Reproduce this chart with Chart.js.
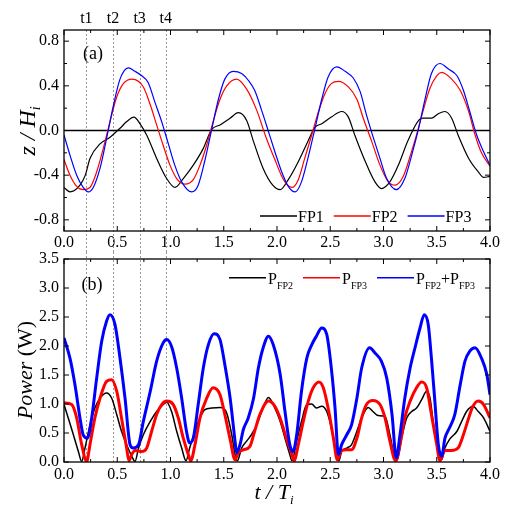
<!DOCTYPE html>
<html>
<head>
<meta charset="utf-8">
<script src="https://cdn.jsdelivr.net/npm/chart.js@4.4.1/dist/chart.umd.min.js"></script>
<style>
  html, body { margin: 0; padding: 0; background: #fff; }
  #wrap { position: relative; width: 516px; height: 518px; }
  #wrap canvas { position: absolute; left: 0; }
</style>
</head>
<body>
<div id="wrap">
  <canvas id="chartA" width="516" height="252" style="top:0px"></canvas>
  <canvas id="chartB" width="516" height="274" style="top:244px"></canvas>
</div>
<script>
// ---- panel (a): z / Hi at the three floaters ----
const fp1T = [0, 0.056, 0.15, 0.2, 0.244, 0.338, 0.432, 0.526, 0.589, 0.657, 0.714, 0.776, 0.87, 0.964,
  1.042, 1.12, 1.214, 1.308, 1.387, 1.465, 1.559, 1.637, 1.715, 1.78, 1.87, 1.96, 2.03, 2.106, 2.2,
  2.294, 2.357, 2.42, 2.51, 2.607, 2.67, 2.73, 2.83, 2.92, 2.98, 3.06, 3.14, 3.23, 3.33, 3.37, 3.45,
  3.515, 3.577, 3.64, 3.7, 3.8, 3.89, 3.94, 4.0];
const fp1Z = [-0.51, -0.55, -0.49, -0.40, -0.25, -0.12, -0.06, 0.02, 0.08, 0.12, 0.06, -0.04, -0.25, -0.43,
  -0.51, -0.43, -0.31, -0.16, 0.01, 0.05, 0.11, 0.16, 0.09, -0.10, -0.34, -0.49, -0.53, -0.44, -0.28,
  -0.09, 0.03, 0.06, 0.12, 0.17, 0.12, -0.04, -0.28, -0.46, -0.52, -0.46, -0.31, -0.09, 0.09, 0.11, 0.11,
  0.15, 0.17, 0.11, -0.04, -0.25, -0.37, -0.42, -0.41];

const fp2T = [0, 0.056, 0.119, 0.18, 0.244, 0.307, 0.369, 0.432, 0.495, 0.557, 0.64, 0.745, 0.81, 0.87,
  0.93, 0.995, 1.058, 1.136, 1.214, 1.277, 1.34, 1.4, 1.465, 1.528, 1.62, 1.715, 1.81, 1.9, 1.98, 2.04,
  2.09, 2.14, 2.2, 2.26, 2.326, 2.39, 2.45, 2.51, 2.576, 2.67, 2.75, 2.81, 2.89, 2.967, 3.045, 3.108,
  3.186, 3.25, 3.31, 3.37, 3.437, 3.5, 3.546, 3.64, 3.72, 3.8, 3.86, 3.92, 4.0];
const fp2Z = [-0.26, -0.40, -0.50, -0.53, -0.51, -0.37, -0.16, 0.08, 0.30, 0.42, 0.46, 0.39, 0.23, 0.05,
  -0.13, -0.31, -0.43, -0.48, -0.44, -0.31, -0.13, 0.08, 0.28, 0.40, 0.46, 0.37, 0.18, -0.07, -0.26, -0.40,
  -0.48, -0.51, -0.44, -0.25, -0.04, 0.17, 0.33, 0.42, 0.44, 0.39, 0.28, 0.11, -0.10, -0.31, -0.46, -0.49,
  -0.41, -0.23, -0.04, 0.17, 0.38, 0.49, 0.52, 0.46, 0.36, 0.17, -0.04, -0.20, -0.32];

const fp3T = [0, 0.056, 0.119, 0.18, 0.228, 0.275, 0.338, 0.4, 0.463, 0.526, 0.604, 0.667, 0.73, 0.79,
  0.855, 0.917, 0.98, 1.04, 1.105, 1.2, 1.26, 1.32, 1.387, 1.45, 1.51, 1.59, 1.668, 1.73, 1.79, 1.856,
  1.92, 1.98, 2.04, 2.106, 2.17, 2.23, 2.29, 2.357, 2.42, 2.48, 2.56, 2.64, 2.716, 2.78, 2.84, 2.9,
  2.967, 3.03, 3.12, 3.2, 3.265, 3.33, 3.39, 3.45, 3.53, 3.61, 3.69, 3.75, 3.81, 3.875, 3.94, 4.0];
const fp3Z = [-0.04, -0.22, -0.40, -0.51, -0.55, -0.51, -0.34, -0.07, 0.22, 0.46, 0.56, 0.53, 0.49, 0.43,
  0.25, 0.08, -0.12, -0.31, -0.46, -0.55, -0.49, -0.28, 0.01, 0.28, 0.46, 0.53, 0.51, 0.45, 0.36, 0.18,
  -0.01, -0.19, -0.36, -0.50, -0.55, -0.46, -0.25, 0.02, 0.28, 0.48, 0.57, 0.53, 0.47, 0.35, 0.14, -0.05,
  -0.25, -0.43, -0.53, -0.43, -0.22, 0.02, 0.28, 0.51, 0.60, 0.55, 0.49, 0.36, 0.17, -0.04, -0.19, -0.31];

// ---- panel (b): power (W) ----
const pFp2T = [0, 0.04, 0.088, 0.135, 0.166, 0.197, 0.244, 0.29, 0.338, 0.4, 0.448, 0.495, 0.54, 0.588,
  0.636, 0.667, 0.7, 0.745, 0.81, 0.87, 0.93, 0.964, 1.01, 1.058, 1.105, 1.146, 1.18, 1.23, 1.277, 1.32,
  1.387, 1.465, 1.528, 1.575, 1.606, 1.627, 1.668, 1.715, 1.76, 1.81, 1.856, 1.92, 1.98, 2.03, 2.075,
  2.12, 2.14, 2.185, 2.23, 2.28, 2.326, 2.37, 2.42, 2.467, 2.51, 2.545, 2.58, 2.607, 2.655, 2.7, 2.75,
  2.795, 2.857, 2.9, 2.95, 3.014, 3.06, 3.108, 3.13, 3.17, 3.218, 3.265, 3.31, 3.357, 3.405, 3.437, 3.47,
  3.515, 3.546, 3.577, 3.62, 3.69, 3.734, 3.78, 3.84, 3.89, 3.94, 4.0];
const pFp2W = [0.99, 0.76, 0.47, 0.18, 0.01, 0.24, 0.64, 0.93, 1.10, 1.19, 1.10, 0.82, 0.53, 0.30,
  0.10, 0.01, 0.24, 0.47, 0.70, 0.87, 0.99, 1.03, 0.87, 0.53, 0.24, 0.02, 0.24, 0.53, 0.76, 0.90,
  0.93, 0.94, 0.84, 0.47, 0.13, 0.02, 0.24, 0.36, 0.47, 0.64, 0.87, 1.11, 0.93, 0.70, 0.41,
  0.13, 0.02, 0.36, 0.70, 0.99, 1.00, 0.93, 0.96, 0.87, 0.59, 0.24, 0.02, 0.18, 0.24, 0.30, 0.53,
  0.76, 0.94, 0.87, 0.80, 0.79, 0.47, 0.07, 0.04, 0.41, 0.76, 0.87, 0.93, 1.07, 1.22, 1.10, 0.64,
  0.18, 0.04, 0.24, 0.39, 0.53, 0.70, 0.87, 0.96, 0.87, 0.76, 0.53];

const pFp3T = [0, 0.072, 0.119, 0.166, 0.213, 0.244, 0.29, 0.338, 0.4, 0.448, 0.495, 0.54, 0.588, 0.61,
  0.636, 0.667, 0.73, 0.776, 0.823, 0.87, 0.917, 0.964, 1.026, 1.073, 1.12, 1.167, 1.19, 1.23, 1.277,
  1.34, 1.4, 1.465, 1.51, 1.56, 1.606, 1.637, 1.684, 1.746, 1.79, 1.84, 1.92, 1.98, 2.04, 2.09, 2.14,
  2.16, 2.2, 2.247, 2.294, 2.34, 2.394, 2.435, 2.48, 2.53, 2.566, 2.607, 2.655, 2.7, 2.75, 2.795, 2.84,
  2.9, 2.967, 3.014, 3.06, 3.114, 3.155, 3.2, 3.25, 3.31, 3.357, 3.405, 3.45, 3.5, 3.53, 3.577, 3.64,
  3.7, 3.75, 3.8, 3.84, 3.89, 3.94, 4.0];
const pFp3W = [1.02, 0.99, 0.76, 0.30, 0.01, 0.30, 0.76, 1.10, 1.39, 1.42, 1.22, 0.76, 0.24, 0.02,
  0.13, 0.20, 0.18, 0.24, 0.53, 0.82, 0.99, 1.05, 0.99, 0.76, 0.41, 0.13, 0.02, 0.30, 0.76,
  1.10, 1.28, 1.16, 0.82, 0.39, 0.04, 0.16, 0.21, 0.27, 0.53, 0.82, 1.05, 0.96, 0.70, 0.39, 0.13,
  0.02, 0.30, 0.70, 1.05, 1.28, 1.38, 1.28, 0.93, 0.41, 0.04, 0.20, 0.21, 0.21, 0.41, 0.76, 0.99,
  1.06, 0.99, 0.76, 0.36, 0.02, 0.30, 0.76, 1.05, 1.28, 1.38, 1.28, 0.82, 0.30, 0.02, 0.20, 0.20,
  0.24, 0.47, 0.76, 0.96, 1.05, 0.99, 0.76];

const pSumT = [0, 0.056, 0.103, 0.15, 0.18, 0.22, 0.26, 0.307, 0.354, 0.4, 0.432, 0.479, 0.526, 0.573,
  0.62, 0.65, 0.7, 0.745, 0.81, 0.87, 0.93, 0.964, 1.01, 1.058, 1.105, 1.15, 1.18, 1.214, 1.26, 1.308,
  1.355, 1.41, 1.465, 1.51, 1.56, 1.606, 1.62, 1.653, 1.684, 1.73, 1.78, 1.825, 1.87, 1.92, 1.965, 2.03,
  2.075, 2.12, 2.15, 2.185, 2.23, 2.28, 2.326, 2.37, 2.42, 2.467, 2.51, 2.545, 2.576, 2.607, 2.655, 2.7,
  2.75, 2.795, 2.87, 2.92, 2.98, 3.03, 3.08, 3.12, 3.155, 3.2, 3.25, 3.296, 3.343, 3.383, 3.42, 3.45,
  3.48, 3.515, 3.546, 3.577, 3.62, 3.67, 3.72, 3.765, 3.81, 3.86, 3.92, 3.97, 4.0];
const pSumW = [2.14, 1.79, 1.33, 0.76, 0.47, 0.41, 0.76, 1.45, 2.08, 2.43, 2.54, 2.37, 1.79, 1.10,
  0.30, 0.24, 0.30, 0.70, 1.22, 1.74, 2.05, 2.11, 1.99, 1.62, 1.10, 0.53, 0.33, 0.41, 0.99, 1.62,
  2.02, 2.21, 2.11, 1.68, 1.10, 0.36, 0.16, 0.30, 0.56, 0.76, 1.10, 1.62, 1.97, 2.17, 2.02, 1.51,
  0.87, 0.30, 0.18, 0.47, 1.22, 1.79, 2.02, 2.17, 2.31, 2.20, 1.62, 0.93, 0.13, 0.30, 0.47, 0.64,
  1.10, 1.62, 1.97, 1.88, 1.74, 1.45, 0.82, 0.07, 0.47, 1.10, 1.62, 1.97, 2.31, 2.54, 2.37, 1.79,
  1.10, 0.30, 0.10, 0.41, 0.59, 0.82, 1.33, 1.74, 1.91, 1.97, 1.79, 1.51, 1.16];

// ---- axes ----
const xTicks = [0, 0.5, 1.0, 1.5, 2.0, 2.5, 3.0, 3.5, 4.0];
const zTicks = [-0.8, -0.4, 0, 0.4, 0.8];
const powerTicks = [0, 0.5, 1.0, 1.5, 2.0, 2.5, 3.0, 3.5];
const markT = [0.21, 0.46, 0.71, 0.955];
const markLabels = ['t1', 't2', 't3', 't4'];

const SERIF = '"Liberation Serif", "Times New Roman", serif';
const font = (size, italic) => (italic ? 'italic ' : '') + size + 'px ' + SERIF;
const toPoints = (xs, ys) => xs.map((x, i) => ({ x: x, y: ys[i] }));

// draw a run of text pieces [text, size, italic, dy]
function drawParts(ctx, parts, x, y, align) {
  let total = 0;
  parts.forEach(p => { ctx.font = font(p[1], p[2]); total += ctx.measureText(p[0]).width; });
  let cx = align === 'center' ? x - total / 2 : x;
  ctx.textAlign = 'left';
  ctx.textBaseline = 'alphabetic';
  parts.forEach(p => {
    ctx.font = font(p[1], p[2]);
    ctx.fillText(p[0], cx, y + (p[3] || 0));
    cx += ctx.measureText(p[0]).width;
  });
  return cx;
}

function withMinor(major, minor) {
  const out = major.map(v => [v, true]);
  if (minor) {
    for (let i = 0; i < major.length - 1; i++) out.push([(major[i] + major[i + 1]) / 2, false]);
  }
  return out;
}

function drawFrame(chart, xMajor, yMajor, yMinor) {
  const { ctx, chartArea: a, scales: { x, y } } = chart;
  ctx.save();
  ctx.strokeStyle = '#000';
  ctx.lineWidth = 1;
  ctx.beginPath();
  withMinor(xMajor, true).forEach(([v, major]) => {
    const px = x.getPixelForValue(v), len = major ? 5 : 3;
    ctx.moveTo(px, a.bottom); ctx.lineTo(px, a.bottom - len);
    ctx.moveTo(px, a.top); ctx.lineTo(px, a.top + len);
  });
  withMinor(yMajor, yMinor).forEach(([v, major]) => {
    const py = y.getPixelForValue(v), len = major ? 5 : 3;
    ctx.moveTo(a.left, py); ctx.lineTo(a.left + len, py);
    ctx.moveTo(a.right, py); ctx.lineTo(a.right - len, py);
  });
  ctx.stroke();
  ctx.lineWidth = 1.3;
  ctx.strokeRect(a.left, a.top, a.right - a.left, a.bottom - a.top);
  ctx.restore();
}

function markers(chart, y0, y1) {
  const { ctx, scales: { x } } = chart;
  ctx.save();
  ctx.strokeStyle = '#999';
  ctx.lineWidth = 1;
  ctx.setLineDash([2, 2]);
  markT.forEach(t => {
    const px = Math.round(x.getPixelForValue(t)) + 0.5;
    ctx.beginPath(); ctx.moveTo(px, y0); ctx.lineTo(px, y1); ctx.stroke();
  });
  ctx.restore();
}

function scaleOpts(min, max, ticks, pad, fit) {
  return {
    type: 'linear', min: min, max: max,
    afterBuildTicks: s => { s.ticks = ticks.map(v => ({ value: v })); },
    ticks: { callback: v => v.toFixed(1), font: { family: SERIF, size: 16 }, color: '#000',
             padding: pad, maxRotation: 0, autoSkip: false },
    grid: { display: false, drawTicks: false },
    border: { display: false },
    afterFit: fit
  };
}

const common = {
  responsive: false, animation: false, events: [],
  plugins: { legend: { display: false }, tooltip: { enabled: false } },
  elements: { point: { radius: 0 }, line: { cubicInterpolationMode: 'monotone', borderJoinStyle: 'round' } }
};

// ---- chart (a) ----
const panelA = {
  id: 'panelA',
  beforeDatasetsDraw(chart) {
    const { ctx, chartArea: a, scales: { y } } = chart;
    markers(chart, a.top, chart.height);
    const py = y.getPixelForValue(0);
    ctx.save();
    ctx.strokeStyle = '#000'; ctx.lineWidth = 1.3;
    ctx.beginPath(); ctx.moveTo(a.left, py); ctx.lineTo(a.right, py); ctx.stroke();
    ctx.restore();
  },
  afterDraw(chart) {
    const { ctx, scales: { x } } = chart;
    drawFrame(chart, xTicks, zTicks, true);
    ctx.save();
    ctx.fillStyle = '#000';
    markT.forEach((t, i) => drawParts(ctx, [[markLabels[i], 16, false]], x.getPixelForValue(t), 23, 'center'));
    drawParts(ctx, [['(a)', 18, false]], 93, 59, 'center');
    // y title z / Hi
    ctx.translate(35, 131);
    ctx.rotate(-Math.PI / 2);
    drawParts(ctx, [['z / H', 24, true], ['i', 14, true, 5]], 0, 0, 'center');
    ctx.restore();
    // legend
    ctx.save();
    let lx = 260;
    [['FP1', '#000'], ['FP2', '#ff0000'], ['FP3', '#0000ff']].forEach(([name, col]) => {
      ctx.strokeStyle = col; ctx.lineWidth = 1.3;
      ctx.beginPath(); ctx.moveTo(lx, 216); ctx.lineTo(lx + 37, 216); ctx.stroke();
      ctx.fillStyle = '#000';
      lx = drawParts(ctx, [[name, 16, false]], lx + 38, 221.5, 'left') + 10;
    });
    ctx.restore();
  }
};

new Chart(document.getElementById('chartA'), {
  type: 'line',
  data: {
    datasets: [
      { label: 'FP1', data: toPoints(fp1T, fp1Z), borderColor: '#000', borderWidth: 1.2, order: 2 },
      { label: 'FP2', data: toPoints(fp2T, fp2Z), borderColor: '#ff0000', borderWidth: 1.2, order: 1 },
      { label: 'FP3', data: toPoints(fp3T, fp3Z), borderColor: '#0000ff', borderWidth: 1.2, order: 0 }
    ]
  },
  options: Object.assign({}, common, {
    layout: { padding: { left: 0, right: 26, top: 30, bottom: 0 } },
    scales: {
      x: scaleOpts(0, 4, xTicks, 2, s => { s.height = 21; }),
      y: scaleOpts(-0.9, 0.9, zTicks, 5, s => { s.width = 64; })
    }
  }),
  plugins: [panelA]
});

// ---- chart (b) ----
const TOP_B = 244;
const panelB = {
  id: 'panelB',
  beforeDatasetsDraw(chart) {
    markers(chart, 252 - TOP_B, chart.chartArea.bottom);
  },
  afterDraw(chart) {
    const { ctx } = chart;
    drawFrame(chart, xTicks, powerTicks, false);
    ctx.save();
    ctx.translate(0, -TOP_B);
    ctx.fillStyle = '#000';
    drawParts(ctx, [['(b)', 18, false]], 92, 290, 'center');
    drawParts(ctx, [['t / T', 22, true], ['i', 13, true, 5]], 274, 499, 'center');
    ctx.save();
    ctx.translate(32, 370);
    ctx.rotate(-Math.PI / 2);
    drawParts(ctx, [['Power', 22, true], [' (W)', 22, false]], 0, 0, 'center');
    ctx.restore();
    // legend with subscripts
    const entries = [
      [229, '#000', [['P', 16], ['FP2', 10, false, 5]]],
      [303, '#ff0000', [['P', 16], ['FP3', 10, false, 5]]],
      [377, '#0000ff', [['P', 16], ['FP2', 10, false, 5], ['+P', 16], ['FP3', 10, false, 5]]]
    ];
    entries.forEach(([lx, col, parts]) => {
      ctx.strokeStyle = col; ctx.lineWidth = 1.5;
      ctx.beginPath(); ctx.moveTo(lx, 277.7); ctx.lineTo(lx + 37, 277.7); ctx.stroke();
      ctx.fillStyle = '#000';
      drawParts(ctx, parts.map(p => [p[0], p[1], false, p[3] || 0]), lx + 39, 283.7, 'left');
    });
    ctx.restore();
  }
};

new Chart(document.getElementById('chartB'), {
  type: 'line',
  data: {
    datasets: [
      { label: 'P_FP2', data: toPoints(pFp2T, pFp2W), borderColor: '#000', borderWidth: 1.5, order: 2 },
      { label: 'P_FP3', data: toPoints(pFp3T, pFp3W), borderColor: '#ff0000', borderWidth: 3, order: 1 },
      { label: 'P_FP2+P_FP3', data: toPoints(pSumT, pSumW), borderColor: '#0000ff', borderWidth: 3, order: 0 }
    ]
  },
  options: Object.assign({}, common, {
    layout: { padding: { left: 0, right: 26, top: 259 - TOP_B, bottom: 0 } },
    scales: {
      x: scaleOpts(0, 4, xTicks, 3, s => { s.height = 518 - 462; }),
      y: scaleOpts(0, 3.5, powerTicks, 5, s => { s.width = 64; })
    }
  }),
  plugins: [panelB]
});
</script>
</body>
</html>
